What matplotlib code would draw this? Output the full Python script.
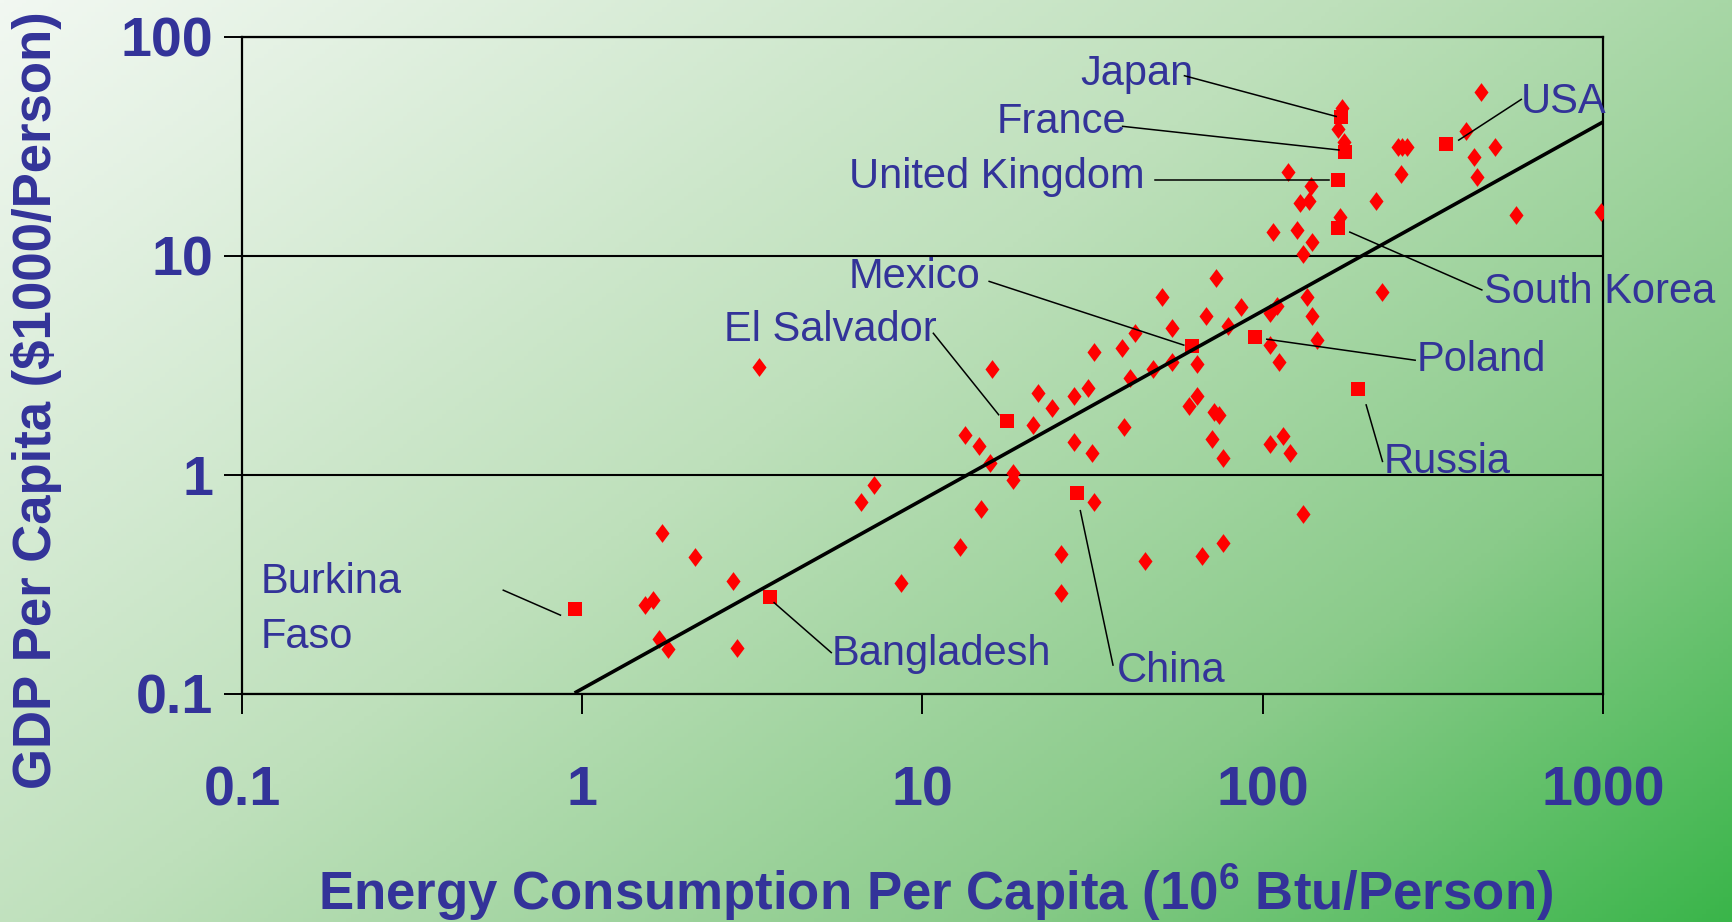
import numpy as np
import matplotlib.pyplot as plt
from matplotlib.ticker import NullLocator

plt.rcParams['font.family'] = ['Liberation Sans', 'DejaVu Sans']
plt.rcParams['mathtext.fontset'] = 'custom'
plt.rcParams['mathtext.rm'] = 'Liberation Sans'
plt.rcParams['mathtext.bf'] = 'Liberation Sans:bold'
plt.rcParams['mathtext.default'] = 'bf'

azul = '#333399'
rojo = '#ff0000'

# paises sin nombre (rombos): energia (10^6 Btu/persona) y PIB ($1000/persona)
energia = [1.53, 1.62, 1.68, 1.79, 1.72, 2.15, 2.78, 2.86, 3.30, 6.6,
           7.2, 8.66, 12.9, 13.3, 14.7, 15.8, 14.9, 16.0, 18.4, 18.4,
           21.2, 21.8, 24.1, 27.8, 30.7, 32.0, 38.6, 42.0, 50.5, 54.2,
           68.2, 72.8, 86.6, 79.1, 40.7, 47.5, 54.3, 64.3, 64.3, 60.7,
           71.7, 74.3, 71.0, 76.2, 39.1, 27.8, 31.6, 32.0, 25.5, 25.5,
           45.0, 66.1, 76.2, 131, 105, 110, 105, 112, 135, 140,
           144, 105, 115, 120, 224, 171, 167, 173, 119, 139,
           129, 137, 215, 169, 107, 126, 140, 131, 249, 257,
           266, 255, 395, 437, 419, 425, 482, 557, 984]
pib = [0.254, 0.269, 0.178, 0.161, 0.545, 0.421, 0.329, 0.162, 3.12, 0.755,
       0.90, 0.32, 0.468, 1.53, 1.36, 1.13, 0.70, 3.04, 1.02, 0.95,
       1.70, 2.36, 2.03, 2.30, 2.49, 3.63, 3.81, 4.44, 6.52, 4.68,
       5.32, 7.93, 5.87, 4.79, 2.77, 3.04, 3.28, 3.20, 2.30, 2.07,
       1.93, 1.88, 1.46, 1.19, 1.66, 1.42, 1.26, 0.755, 0.436, 0.290,
       0.405, 0.427, 0.489, 0.667, 5.49, 5.88, 3.92, 3.29, 6.53, 5.32,
       4.13, 1.39, 1.50, 1.26, 6.85, 47.4, 38.1, 33.3, 24.3, 20.9,
       17.5, 17.8, 17.8, 15.1, 12.8, 13.2, 11.6, 10.2, 31.3, 31.3,
       31.3, 23.7, 37.3, 55.9, 28.2, 23.0, 31.4, 15.4, 15.8]

# paises con nombre (cuadrados)
nombres = ['Burkina Faso', 'Bangladesh', 'El Salvador', 'China', 'Mexico', 'Poland',
           'Russia', 'South Korea', 'United Kingdom', 'France', 'Japan', 'USA']
energia_pais = [0.952, 3.56, 17.7, 28.4, 62.0, 95.1, 191, 166, 166, 175, 170, 346]
pib_pais = [0.244, 0.278, 1.77, 0.825, 3.89, 4.28, 2.46, 13.4, 22.2, 29.9, 43.0, 32.5]

# recta de ajuste (extremos)
recta_x = [0.96, 1000]
recta_y = [0.102, 40.9]

ticks_x = [0.1, 1, 10, 100, 1000]
ticks_y = [0.1, 1, 10, 100]

# donde va cada nombre y su rayita, en fraccion de ejes
# (para Burkina Faso la posicion es la linea de abajo)
pos_texto = {
    'Burkina Faso': (0.014, 0.070),
    'Bangladesh': (0.433, 0.044),
    'El Salvador': (0.3545, 0.537),
    'China': (0.643, 0.019),
    'Mexico': (0.446, 0.618),
    'Poland': (0.863, 0.491),
    'Russia': (0.8386, 0.336),
    'South Korea': (0.9126, 0.595),
    'United Kingdom': (0.446, 0.770),
    'France': (0.5547, 0.854),
    'Japan': (0.6157, 0.927),
    'USA': (0.9398, 0.884),
}
rayitas = {
    'Burkina Faso': ((0.192, 0.158), (0.234, 0.120)),
    'Bangladesh': ((0.391, 0.139), (0.433, 0.063)),
    'El Salvador': ((0.508, 0.549), (0.556, 0.425)),
    'China': ((0.640, 0.044), (0.616, 0.279)),
    'Mexico': ((0.549, 0.628), (0.692, 0.531)),
    'Poland': ((0.753, 0.540), (0.862, 0.508)),
    'Russia': ((0.826, 0.440), (0.838, 0.354)),
    'South Korea': ((0.814, 0.703), (0.911, 0.615)),
    'United Kingdom': ((0.671, 0.783), (0.799, 0.783)),
    'France': ((0.647, 0.864), (0.806, 0.828)),
    'Japan': ((0.6925, 0.941), (0.804, 0.879)),
    'USA': ((0.894, 0.843), (0.940, 0.905)),
}

fig = plt.figure(figsize=(17.32, 9.22), dpi=100)

# fondo degradado verde (diagonal, un poco mas hacia la derecha)
fondo = fig.add_axes([0, 0, 1, 1])
gx, gy = np.meshgrid(np.linspace(0, 1, 400), np.linspace(0, 1, 220))
t = 0.58 * gx + 0.42 * gy
paradas = [0, 0.45, 0.75, 1]
r = np.interp(t, paradas, [242, 190, 138, 58]) / 255
g = np.interp(t, paradas, [248, 224, 203, 181]) / 255
b = np.interp(t, paradas, [242, 187, 138, 74]) / 255
fondo.imshow(np.dstack([r, g, b]), extent=[0, 1, 0, 1], aspect='auto')
fondo.axis('off')

ax = fig.add_axes([0.1397, 0.2473, 0.7858, 0.7126])
ax.set_facecolor('none')
ax.set_xscale('log')
ax.set_yscale('log')
ax.set_xlim(0.1, 1000)
ax.set_ylim(0.1, 100)

rombo = [(0, 1), (0.75, 0), (0, -1), (-0.75, 0), (0, 1)]
ax.plot(energia, pib, ls='none', marker=rombo, ms=13.5, color=rojo, mew=0, zorder=3)
ax.plot(energia_pais, pib_pais, ls='none', marker='s', ms=10, color=rojo, mew=0, zorder=3)
ax.plot(recta_x, recta_y, color='black', lw=2.6, zorder=4)

for n in nombres:
    fx, fy = pos_texto[n]
    ax.text(fx, fy, n.replace('Burkina ', 'Burkina\n'), transform=ax.transAxes,
            fontsize=30, color=azul, ha='left', va='baseline', linespacing=1.49,
            clip_on=False, zorder=5)
    (x0, y0), (x1, y1) = rayitas[n]
    ax.plot([x0, x1], [y0, y1], transform=ax.transAxes, color='black', lw=1.1,
            clip_on=False, zorder=5)

ax.set_xticks(ticks_x, labels=[f'{v:g}' for v in ticks_x], fontweight='bold')
ax.set_yticks(ticks_y, labels=[f'{v:g}' for v in ticks_y], fontweight='bold')
ax.xaxis.set_minor_locator(NullLocator())
ax.yaxis.set_minor_locator(NullLocator())
ax.tick_params(axis='x', direction='out', length=14.4, width=1.4, pad=37,
               labelsize=40, labelcolor=azul)
ax.tick_params(axis='y', direction='out', length=12.7, width=1.4, pad=8,
               labelsize=40, labelcolor=azul)
ax.grid(axis='y', color='black', lw=1.5)
ax.grid(axis='x', visible=False)
for s in ax.spines.values():
    s.set_linewidth(1.6)
    s.set_color('black')

fig.text(0.540, 0.013, 'Energy Consumption Per Capita (10$^{6}$ Btu/Person)',
         ha='center', va='baseline', fontsize=38, fontweight='bold', color=azul)
fig.text(0.021, 0.566, r'GDP Per Capita (\$1000/Person)', rotation=90,
         ha='center', va='center', fontsize=38, fontweight='bold', color=azul)

fig.savefig('out.png', dpi=100)
